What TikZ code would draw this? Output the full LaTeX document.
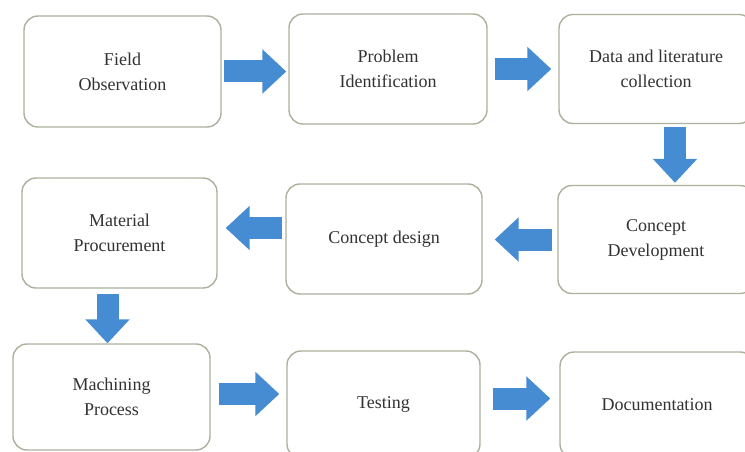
\documentclass[tikz,border=0pt]{standalone}
\usepackage{fontspec}
\setmainfont{Liberation Serif}
\usetikzlibrary{arrows.meta}
\definecolor{boxline}{RGB}{170,178,158}
\definecolor{flowblue}{RGB}{70,140,210}
\definecolor{boxtext}{RGB}{50,50,50}
\tikzset{
  stage/.style={draw=boxline, line width=1.4pt, rounded corners=14pt, fill=white,
    inner sep=0pt, align=center, text=boxtext,
    font=\fontsize{18}{25}\selectfont},
  flow/.style={draw=flowblue, line width=22pt,
    -{Triangle[width=43pt,length=24pt,fill=flowblue]}}
}
\begin{document}
\begin{tikzpicture}[x=1pt,y=-1pt]
\useasboundingbox (0,0) rectangle (745,452);
\clip (0,0) rectangle (745,452);
\node[stage, minimum width=197pt, minimum height=111pt] (field) at (122.5,71.5) {Field\\Observation};
\node[stage, minimum width=198pt, minimum height=110pt] (problem) at (388,69) {Problem\\Identification};
\node[stage, minimum width=194pt, minimum height=109pt] (data) at (656,69) {Data and literature\\collection};
\node[stage, minimum width=195pt, minimum height=110pt] (material) at (119.5,233) {Material\\Procurement};
\node[stage, minimum width=196pt, minimum height=110pt] (design) at (384,239) {Concept design};
\node[stage, minimum width=196pt, minimum height=108pt] (dev) at (656,239.5) {Concept\\Development};
\node[stage, minimum width=197pt, minimum height=106pt] (machining) at (111.5,397) {Machining\\Process};
\node[stage, minimum width=193pt, minimum height=107pt] (testing) at (383.5,404.5) {Testing};
\node[stage, minimum width=194pt, minimum height=106pt] (doc) at (657,405) {Documentation};
\draw[flow, shorten <=2pt, shorten >=2pt] (field.east) -- (field.east -| problem.west);
\draw[flow, shorten <=7pt, shorten >=7pt] (problem.east) -- (problem.east -| data.west);
\draw[flow, shorten <=3pt, shorten >=2pt] ([xshift=19]data.south) -- ([xshift=19]data.south |- dev.north);
\draw[flow, shorten <=5pt, shorten >=12pt] (dev.west) -- (dev.west -| design.east);
\draw[flow, shorten <=3pt, shorten >=8pt] ([yshift=11]design.west) -- ([yshift=11]design.west -| material.east);
\draw[flow, shorten <=5pt, shorten >=0pt] ([xshift=-12]material.south) -- ([xshift=-12]material.south |- machining.north);
\draw[flow, shorten <=8pt, shorten >=7pt] ([yshift=3]machining.east) -- ([yshift=3]machining.east -| testing.west);
\draw[flow, shorten <=12pt, shorten >=9pt] ([yshift=6]testing.east) -- ([yshift=6]testing.east -| doc.west);
\end{tikzpicture}
\end{document}
